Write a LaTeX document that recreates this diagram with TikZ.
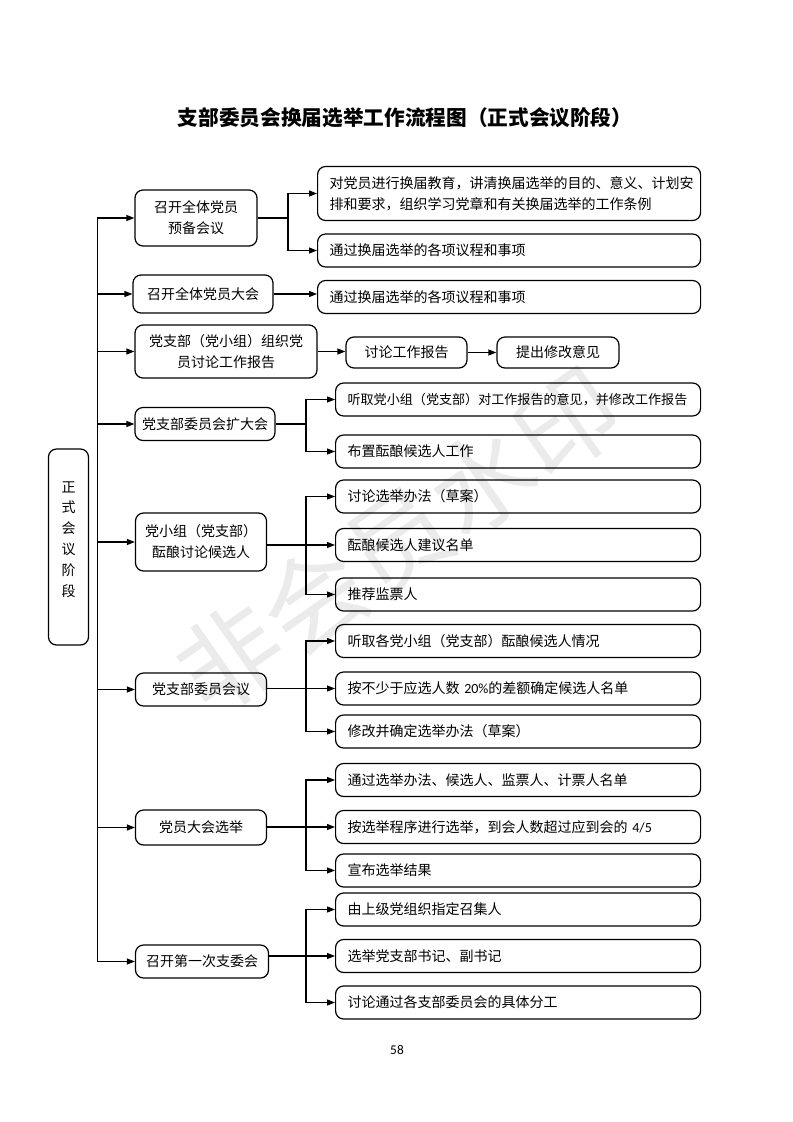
\documentclass[tikz,border=0pt]{standalone}
\usepackage{fontspec}
\setmainfont{Noto Sans CJK SC}
\newfontfamily\latin{Carlito}
\usetikzlibrary{arrows.meta}

\begin{document}
\begin{tikzpicture}[x=0.75pt,y=-0.75pt,line width=0.9pt,
  font=\fontsize{10.5}{15.75}\selectfont,
  % arrow heads for all connectors
  link/.style={-{Triangle[length=6pt,width=4.5pt]}},
  stage/.style={draw, rounded corners=6pt, align=center, inner sep=0pt},
  task/.style={draw, rounded corners=6pt, anchor=west, align=left,
    inner xsep=9pt, inner ysep=0pt, minimum height=24.75pt, text width=#1},
  task/.default=269.25pt]
\useasboundingbox (0,0) rectangle (793,1122);
% watermark
\node[rotate=35, text=black!8, font=\fontsize{77}{77}\selectfont] (mark) at (398,540) {非会员水印};
% title and page number
\node[font=\fontsize{15.5}{18}\selectfont\bfseries] (title) at (405,118) {支部委员会换届选举工作流程图（正式会议阶段）};
\node[font=\latin\fontsize{10}{12}\selectfont] (page) at (397,1050) {58};
% left column
\node[stage, minimum width=30pt, minimum height=147pt, text depth=12.5pt,
  font=\fontsize{10.5}{15.6}\selectfont] (phase) at (68.5,547) {正\\式\\会\\议\\阶\\段};
% middle column
\node[stage, minimum width=91.5pt, minimum height=42pt] (m1) at (196,218) {召开全体党员\\预备会议};
\node[stage, minimum width=105pt, minimum height=28.5pt] (m2) at (203,294) {召开全体党员大会};
\node[stage, minimum width=136.5pt, minimum height=39.75pt] (m3) at (226,351.5) {党支部（党小组）组织党\\员讨论工作报告};
\node[stage, minimum width=105pt, minimum height=24.75pt] (m4) at (205,424) {党支部委员会扩大会};
\node[stage, minimum width=98.25pt, minimum height=43.5pt] (m5) at (201,542) {党小组（党支部）\\酝酿讨论候选人};
\node[stage, minimum width=98.25pt, minimum height=24.75pt] (m6) at (201,689.5) {党支部委员会议};
\node[stage, minimum width=98.25pt, minimum height=26.25pt] (m7) at (201,827.5) {党员大会选举};
\node[stage, minimum width=99.75pt, minimum height=24.75pt] (m8) at (202,961.5) {召开第一次支委会};
% right column
\node[task, minimum height=40.5pt] (t11) at (317,193.5) {对党员进行换届教育，讲清换届选举的目的、意义、计划安\\排和要求，组织学习党章和有关换届选举的工作条例};
\node[task] (t12) at (317,250.5) {通过换届选举的各项议程和事项};
\node[task] (t21) at (317,297) {通过换届选举的各项议程和事项};
\node[stage, minimum width=90.75pt, minimum height=23.25pt] (r31) at (406.5,352.5) {讨论工作报告};
\node[stage, minimum width=91.5pt, minimum height=23.25pt] (r32) at (558,352.5) {提出修改意见};
\node[task=255.75pt, font=\fontsize{9.8}{15.75}\selectfont] (t41) at (335,399.5) {听取党小组（党支部）对工作报告的意见，并修改工作报告};
\node[task=255.75pt] (t42) at (335,451.5) {布置酝酿候选人工作};
\node[task=255.75pt] (t51) at (335,496.5) {讨论选举办法（草案）};
\node[task=255.75pt] (t52) at (335,545) {酝酿候选人建议名单};
\node[task=255.75pt] (t53) at (335,594.5) {推荐监票人};
\node[task=255.75pt] (t61) at (335,641) {听取各党小组（党支部）酝酿候选人情况};
\node[task=255.75pt] (t62) at (335,688.5) {按不少于应选人数 {\latin 20\%}的差额确定候选人名单};
\node[task=255.75pt] (t63) at (335,731.5) {修改并确定选举办法（草案）};
\node[task=255.75pt] (t71) at (335,780) {通过选举办法、候选人、监票人、计票人名单};
\node[task=255.75pt] (t72) at (335,827) {按选举程序进行选举，到会人数超过应到会的 {\latin 4/5}};
\node[task=255.75pt] (t73) at (335,870.5) {宣布选举结果};
\node[task=255.75pt] (t81) at (335,909.5) {由上级党组织指定召集人};
\node[task=255.75pt] (t82) at (335,956) {选举党支部书记、副书记};
\node[task=255.75pt] (t83) at (335,1002.5) {讨论通过各支部委员会的具体分工};
% trunk and branch points
\coordinate (trunk) at (97.5,0);
\coordinate (fork) at (288,0);
\coordinate (split) at (306,0);
\draw[link] (m1.west -| trunk) |- (m8.west);
\draw[link] (m8.west -| trunk) |- (m1.west);
\foreach \i in {2,...,7}
  \draw[link] (m\i.west -| trunk) -- (m\i.west);
% two-way branches
\draw (m1.east) -- (m1.east -| fork);
\draw[link] (m1.east -| fork) |- (t11.west);
\draw[link] (m1.east -| fork) |- (t12.west);
\draw (m4.east) -- (m4.east -| split);
\draw[link] (m4.east -| split) |- (t41.west);
\draw[link] (m4.east -| split) |- (t42.west);
% straight arrows
\draw[link] (m2.east) -- (m2.east -| t21.west);
\draw[link] (m3.east) -- (m3.east -| r31.west);
\draw[link] (r31.east) -- (r31.east -| r32.west);
% three-way branches
\foreach \g in {5,6,7,8} {
  \draw[link] (t\g2.west -| m\g.east) -- (t\g2.west);
  \draw[link] (t\g2.west -| split) |- (t\g1.west);
  \draw[link] (t\g2.west -| split) |- (t\g3.west);
}
\end{tikzpicture}
\end{document}
